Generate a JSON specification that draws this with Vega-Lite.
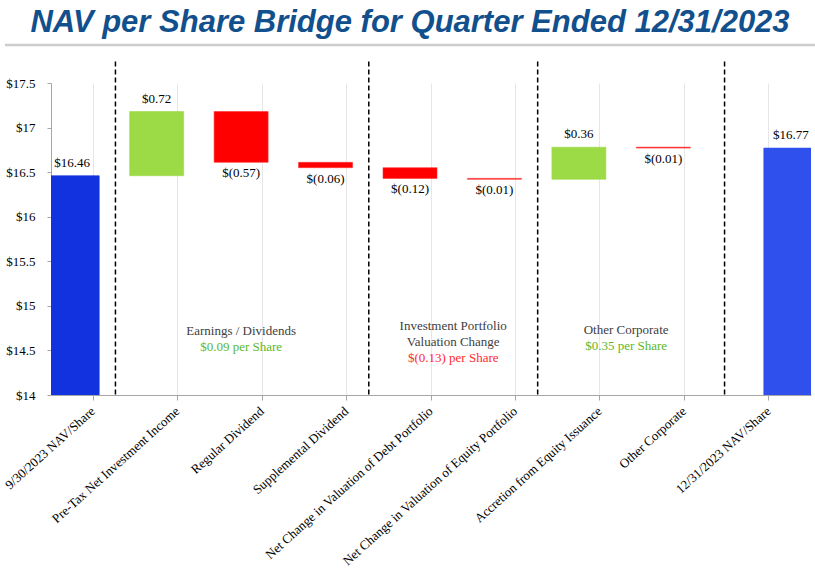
{
  "$schema": "https://vega.github.io/schema/vega-lite/v6.json",
  "width": 760,
  "height": 312,
  "autosize": {"type": "none"},
  "padding": {"left": 51, "top": 83, "right": 4, "bottom": 180},
  "background": "white",
  "config": {"view": {"stroke": null}, "font": "Liberation Serif"},
  "title": {
    "text": "NAV per Share Bridge for Quarter Ended 12/31/2023",
    "font": "Liberation Sans",
    "fontSize": 31,
    "fontStyle": "italic",
    "fontWeight": "bold",
    "color": "#11508C",
    "anchor": "middle",
    "frame": "group",
    "dx": -21,
    "offset": -19,
    "baseline": "alphabetic"
  },
  "datasets": {
    "steps": [
      {"cat": "9/30/2023 NAV/Share", "lo": 0, "hi": 16.46, "kind": "start", "label": "$16.46"},
      {"cat": "Pre-Tax Net Investment Income", "lo": 16.46, "hi": 17.18, "kind": "up", "label": "$0.72"},
      {"cat": "Regular Dividend", "lo": 16.61, "hi": 17.18, "kind": "down", "label": "$(0.57)"},
      {"cat": "Supplemental Dividend", "lo": 16.55, "hi": 16.61, "kind": "down", "label": "$(0.06)"},
      {"cat": "Net Change in Valuation of Debt Portfolio", "lo": 16.43, "hi": 16.55, "kind": "down", "label": "$(0.12)"},
      {"cat": "Net Change in Valuation of Equity Portfolio", "lo": 16.42, "hi": 16.43, "kind": "down", "label": "$(0.01)"},
      {"cat": "Accretion from Equity Issuance", "lo": 16.42, "hi": 16.78, "kind": "up", "label": "$0.36"},
      {"cat": "Other Corporate", "lo": 16.77, "hi": 16.78, "kind": "down", "label": "$(0.01)"},
      {"cat": "12/31/2023 NAV/Share", "lo": 0, "hi": 16.77, "kind": "end", "label": "$16.77"}
    ]
  },
  "layer": [
    {
      "layer": [
        {
          "data": {"name": "steps"},
          "transform": [{"filter": "datum.kind != 'end'"}],
          "mark": {"type": "bar", "width": 54, "xOffset": -21, "clip": true, "strokeWidth": 0.6},
          "encoding": {
            "x": {
              "field": "cat",
              "type": "nominal",
              "sort": null,
              "scale": {
                "type": "band",
                "paddingInner": 0,
                "paddingOuter": 0,
                "domain": ["9/30/2023 NAV/Share", "Pre-Tax Net Investment Income", "Regular Dividend", "Supplemental Dividend", "Net Change in Valuation of Debt Portfolio", "Net Change in Valuation of Equity Portfolio", "Accretion from Equity Issuance", "Other Corporate", "12/31/2023 NAV/Share"]
              },
              "axis": {
                "title": null,
                "labelAngle": -42,
                "labelAlign": "right",
                "labelBaseline": "middle",
                "labelFont": "Liberation Serif",
                "labelFontSize": 13,
                "labelColor": "#000000",
                "labelPadding": 9,
                "labelLimit": 400,
                "labelOverlap": false,
                "tickSize": 5,
                "tickColor": "#A6A6A6",
                "domainColor": "#A6A6A6",
                "grid": true,
                "gridColor": "#E6E6E6",
                "bandPosition": 0.5
              }
            },
            "y": {
              "field": "lo",
              "type": "quantitative",
              "scale": {"domain": [14, 17.5], "nice": false, "zero": false},
              "axis": {
                "title": null,
                "values": [14, 14.5, 15, 15.5, 16, 16.5, 17, 17.5],
                "labelExpr": "'$' + datum.value",
                "labelFont": "Liberation Serif",
                "labelFontSize": 13,
                "labelColor": "#000000",
                "labelPadding": 12,
                "tickSize": 4,
                "tickColor": "#A6A6A6",
                "domainColor": "#A6A6A6",
                "grid": false
              }
            },
            "y2": {"field": "hi"},
            "color": {
              "field": "kind",
              "type": "nominal",
              "scale": {"domain": ["start", "up", "down", "end"], "range": ["#1232DF", "#9CDA46", "#FF0000", "#3050EE"]},
              "legend": null
            },
            "stroke": {
              "field": "kind",
              "type": "nominal",
              "scale": {"domain": ["start", "up", "down", "end"], "range": ["#1232DF", "#9CDA46", "#FF3030", "#3050EE"]},
              "legend": null
            }
          }
        },
        {
          "data": {"name": "steps"},
          "transform": [{"filter": "datum.kind == 'end'"}],
          "mark": {"type": "bar", "width": 54, "xOffset": 22, "clip": true, "strokeWidth": 0.6},
          "encoding": {
            "x": {"field": "cat", "type": "nominal"},
            "y": {"field": "lo", "type": "quantitative"},
            "y2": {"field": "hi"},
            "color": {"field": "kind", "type": "nominal", "legend": null},
            "stroke": {"field": "kind", "type": "nominal", "legend": null}
          }
        },
        {
          "data": {"name": "steps"},
          "transform": [{"filter": "datum.kind == 'start' || datum.kind == 'up'"}],
          "mark": {"type": "text", "xOffset": -21, "dy": -6, "baseline": "bottom", "font": "Liberation Serif", "fontSize": 13, "color": "#000000"},
          "encoding": {
            "x": {"field": "cat", "type": "nominal"},
            "y": {"field": "hi", "type": "quantitative"},
            "text": {"field": "label"}
          }
        },
        {
          "data": {"name": "steps"},
          "transform": [{"filter": "datum.kind == 'down'"}],
          "mark": {"type": "text", "xOffset": -21, "dy": 5, "baseline": "top", "font": "Liberation Serif", "fontSize": 13, "color": "#000000"},
          "encoding": {
            "x": {"field": "cat", "type": "nominal"},
            "y": {"field": "lo", "type": "quantitative"},
            "text": {"field": "label"}
          }
        },
        {
          "data": {"name": "steps"},
          "transform": [{"filter": "datum.kind == 'end'"}],
          "mark": {"type": "text", "xOffset": 22, "dy": -6, "baseline": "bottom", "font": "Liberation Serif", "fontSize": 13, "color": "#000000"},
          "encoding": {
            "x": {"field": "cat", "type": "nominal"},
            "y": {"field": "hi", "type": "quantitative"},
            "text": {"field": "label"}
          }
        },
        {
          "data": {"values": [{"cat": "Pre-Tax Net Investment Income"}, {"cat": "Net Change in Valuation of Debt Portfolio"}, {"cat": "Accretion from Equity Issuance"}]},
          "mark": {"type": "rule", "strokeDash": [5, 3], "strokeWidth": 1.5, "color": "#000000", "xOffset": -20},
          "encoding": {
            "x": {"field": "cat", "type": "nominal", "bandPosition": 0},
            "y": {"datum": 17.74},
            "y2": {"datum": 14}
          }
        },
        {
          "data": {"values": [{"cat": "12/31/2023 NAV/Share"}]},
          "mark": {"type": "rule", "strokeDash": [5, 3], "strokeWidth": 1.5, "color": "#000000", "xOffset": -2},
          "encoding": {
            "x": {"field": "cat", "type": "nominal", "bandPosition": 0},
            "y": {"datum": 17.74},
            "y2": {"datum": 14}
          }
        },
        {
          "data": {"values": [{"cat": "Regular Dividend", "t": "Earnings / Dividends"}]},
          "mark": {"type": "text", "xOffset": -21, "baseline": "middle", "font": "Liberation Serif", "fontSize": 13, "color": "#404040"},
          "encoding": {
            "x": {"field": "cat", "type": "nominal"},
            "y": {"datum": 14.718},
            "text": {"field": "t"}
          }
        },
        {
          "data": {"values": [{"cat": "Regular Dividend", "t": "$0.09 per Share"}]},
          "mark": {"type": "text", "xOffset": -21, "baseline": "middle", "font": "Liberation Serif", "fontSize": 13, "color": "#5CB82A"},
          "encoding": {
            "x": {"field": "cat", "type": "nominal"},
            "y": {"datum": 14.538},
            "text": {"field": "t"}
          }
        },
        {
          "data": {"values": [{"cat": "Net Change in Valuation of Debt Portfolio", "t": "Investment Portfolio\nValuation Change"}]},
          "mark": {"type": "text", "xOffset": -20, "baseline": "middle", "lineBreak": "\n", "lineHeight": 16, "font": "Liberation Serif", "fontSize": 13, "color": "#404040"},
          "encoding": {
            "x": {"field": "cat", "type": "nominal", "bandPosition": 1},
            "y": {"datum": 14.774},
            "text": {"field": "t"}
          }
        },
        {
          "data": {"values": [{"cat": "Net Change in Valuation of Debt Portfolio", "t": "$(0.13) per Share"}]},
          "mark": {"type": "text", "xOffset": -20, "baseline": "middle", "font": "Liberation Serif", "fontSize": 13, "color": "#FF2A2A"},
          "encoding": {
            "x": {"field": "cat", "type": "nominal", "bandPosition": 1},
            "y": {"datum": 14.415},
            "text": {"field": "t"}
          }
        },
        {
          "data": {"values": [{"cat": "Accretion from Equity Issuance", "t": "Other Corporate"}]},
          "mark": {"type": "text", "xOffset": -16, "baseline": "middle", "font": "Liberation Serif", "fontSize": 13, "color": "#404040"},
          "encoding": {
            "x": {"field": "cat", "type": "nominal", "bandPosition": 1},
            "y": {"datum": 14.729},
            "text": {"field": "t"}
          }
        },
        {
          "data": {"values": [{"cat": "Accretion from Equity Issuance", "t": "$0.35 per Share"}]},
          "mark": {"type": "text", "xOffset": -16, "baseline": "middle", "font": "Liberation Serif", "fontSize": 13, "color": "#5CB82A"},
          "encoding": {
            "x": {"field": "cat", "type": "nominal", "bandPosition": 1},
            "y": {"datum": 14.55},
            "text": {"field": "t"}
          }
        }
      ]
    },
    {
      "data": {"values": [{"line": "title rule"}]},
      "mark": {"type": "rule", "color": "#CCCCCC", "strokeWidth": 2.5},
      "encoding": {
        "x": {"datum": -0.0605, "type": "quantitative", "scale": {"domain": [0, 1], "nice": false, "zero": false}, "axis": null},
        "x2": {"datum": 1.006},
        "y": {"datum": 17.926, "type": "quantitative", "scale": {"domain": [14, 17.5], "nice": false, "zero": false}}
      }
    }
  ],
  "resolve": {"scale": {"x": "independent"}, "axis": {"x": "independent"}}
}
